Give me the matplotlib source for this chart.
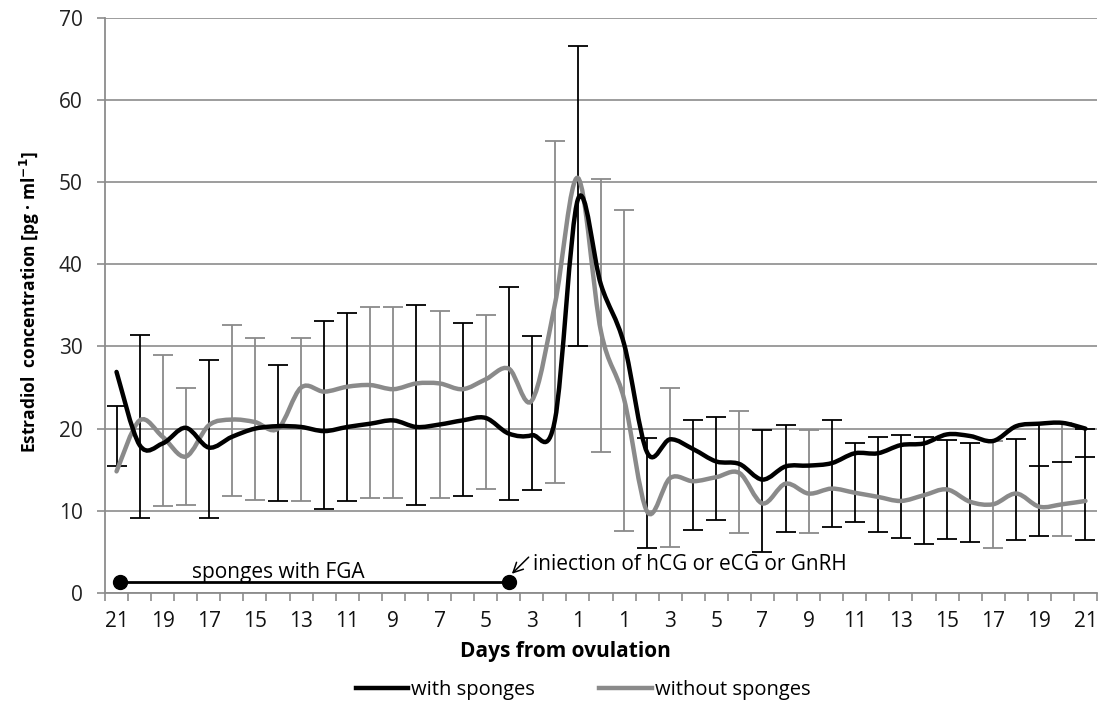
import numpy as np
import matplotlib.pyplot as plt
from matplotlib.path import Path
from matplotlib.patches import PathPatch
from matplotlib.lines import Line2D

plt.rcParams['font.family'] = ['Open Sans', 'DejaVu Sans']

# Data: days before ovulation (21..1), ovulation day, days after (1..21)
days = [str(d) for d in range(21, 0, -1)] + ['0'] + [str(d) for d in range(1, 22)]

with_sponges = [26.9, 18.0, 18.2, 20.1, 17.7, 19.0, 20.0, 20.3, 20.2, 19.7,
                20.2, 20.6, 21.0, 20.2, 20.5, 21.0, 21.3, 19.4, 19.2, 21.0,
                47.9, 37.5, 30.3, 17.1, 18.7, 17.5, 16.0, 15.7, 13.8, 15.4,
                15.5, 15.8, 17.0, 17.0, 18.0, 18.2, 19.3, 19.1, 18.5, 20.3,
                20.6, 20.7, 20.0]
without_sponges = [14.8, 21.0, 19.0, 16.6, 20.4, 21.1, 20.8, 20.0, 25.0, 24.5,
                   25.1, 25.3, 24.8, 25.5, 25.5, 24.8, 26.0, 27.3, 23.4, 35.1,
                   50.5, 31.8, 23.6, 9.9, 14.0, 13.6, 14.1, 14.6, 10.9, 13.3,
                   12.1, 12.7, 12.2, 11.7, 11.2, 11.9, 12.6, 11.1, 10.8, 12.1,
                   10.5, 10.8, 11.2]

# visible extent of the error bar at each day
bar_low = [15.4, 9.1, 10.6, 10.7, 9.1, 11.8, 11.3, 11.2, 11.2, 10.2,
           11.2, 11.6, 11.6, 10.7, 11.6, 11.8, 12.7, 11.3, 12.5, 13.4,
           30.0, 17.2, 7.5, 5.5, 5.6, 7.7, 8.9, 7.3, 5.0, 7.4,
           7.3, 8.0, 8.6, 7.4, 6.7, 6.0, 6.6, 6.2, 5.5, 6.4,
           6.9, 6.9, 6.4]
bar_high = [22.7, 31.4, 29.0, 25.0, 28.3, 32.6, 31.0, 27.7, 31.0, 33.1,
            34.1, 34.8, 34.8, 35.1, 34.3, 32.9, 33.8, 37.2, 31.3, 55.0,
            66.6, 50.4, 46.6, 18.8, 24.9, 21.0, 21.4, 22.2, 19.8, 20.4,
            19.8, 21.0, 18.3, 19.0, 19.2, 19.0, 18.6, 18.3, 18.5, 18.7,
            20.6, 20.7, 20.0]
bar_color = list('kkggkggkgkkggkgkgkkgkggkgkkgkkgkkkkkkkgkkgk')
# extra caps of the "without sponges" bars at the end
extra_cap = [np.nan] * 40 + [15.4, 15.9, 16.5]

BLACK = '#000000'
GRAY = '#8a8a8a'
GRID = '#8c8c8c'


def smooth_path(xs, ys):
    # Excel-like smoothed line (Catmull-Rom as cubic Bezier)
    n = len(xs)
    verts = [(xs[0], ys[0])]
    codes = [Path.MOVETO]
    for i in range(n - 1):
        a = max(i - 1, 0)
        b = min(i + 2, n - 1)
        c1 = (xs[i] + (xs[i + 1] - xs[a]) / 6, ys[i] + (ys[i + 1] - ys[a]) / 6)
        c2 = (xs[i + 1] - (xs[b] - xs[i]) / 6, ys[i + 1] - (ys[b] - ys[i]) / 6)
        verts += [c1, c2, (xs[i + 1], ys[i + 1])]
        codes += [Path.CURVE4] * 3
    return Path(verts, codes)


x = np.arange(len(days))
lo = np.array(bar_low)
hi = np.array(bar_high)

fig = plt.figure(figsize=(11.02, 7.02), dpi=100)
ax = fig.add_axes([105 / 1102, 1 - 593 / 702, 992 / 1102, 575.3 / 702])

for col, ec in (('g', GRAY), ('k', BLACK)):
    idx = np.array([c == col for c in bar_color])
    ax.errorbar(x[idx], lo[idx], yerr=[np.zeros(idx.sum()), (hi - lo)[idx]],
                fmt='none', ecolor=ec, elinewidth=1.3, capsize=7, capthick=1.3, zorder=3)
ax.plot(x, extra_cap, ls='none', marker='_', ms=14, mew=1.3, color=BLACK, zorder=3)

ax.add_patch(PathPatch(smooth_path(x, without_sponges), fill=False, ec=GRAY, lw=3.2,
                       capstyle='round', zorder=4))
ax.add_patch(PathPatch(smooth_path(x, with_sponges), fill=False, ec=BLACK, lw=3.2,
                       capstyle='round', zorder=5))

ax.set_xlim(-0.5, len(days) - 0.5)
ax.set_ylim(0, 70)
ax.set_yticks(range(0, 71, 10))
ax.yaxis.grid(True, color=GRID, lw=1.2)
ax.set_axisbelow(True)
for s in ('top', 'right'):
    ax.spines[s].set_visible(False)
for s in ('left', 'bottom'):
    ax.spines[s].set_color(GRID)
    ax.spines[s].set_linewidth(1.3)

ax.set_xticks(x[::2])
ax.set_xticklabels(days[::2])
ax.set_xticks(np.arange(-0.5, len(days), 1), minor=True)
ax.tick_params(axis='x', which='major', length=0, pad=13, labelsize=15, labelcolor='#111111')
ax.tick_params(axis='x', which='minor', length=6, color=GRID, width=1.2)
ax.tick_params(axis='y', length=6, color=GRID, width=1.2, pad=10, labelsize=15,
               labelcolor='#222222')

ax.set_xlabel('Days from ovulation', fontsize=15, fontweight='bold')
ax.xaxis.set_label_coords((565 - 105) / 992, (593 - 651) / 575.3)
ax.xaxis.label.set_va('center')
ax.set_ylabel('Estradiol  concentration [pg · ml$^{\\mathbf{-1}}$]', fontsize=12.5, fontweight='bold')
ax.yaxis.set_label_coords((30 - 105) / 992, (593 - 302) / 575.3)
ax.yaxis.label.set_va('center')

# sponge period and injection annotation
ax.plot([0.15, 17.0], [1.3, 1.3], color=BLACK, lw=2, marker='o', ms=10,
        clip_on=False, zorder=6)
ax.text(7.0, 2.5, 'sponges with FGA', fontsize=15, ha='center', va='center')
ax.annotate('', xy=(17.05, 2.1), xytext=(17.95, 4.6),
            arrowprops=dict(arrowstyle='->,head_length=0.7,head_width=0.35',
                            color=BLACK, lw=1.1))
ax.text(18.05, 3.5, 'iniection of hCG or eCG or GnRH', fontsize=15, ha='left', va='center')

handles = [Line2D([], [], color=BLACK, lw=3.2), Line2D([], [], color=GRAY, lw=3.2)]
fig.legend(handles, ['with sponges', 'without sponges'], loc='center',
           bbox_to_anchor=(583 / 1102, 1 - 690 / 702), ncol=2, frameon=False,
           fontsize=14.5, handlelength=2.6, handletextpad=0.15, columnspacing=3.2)

fig.savefig('out.png', dpi=100)
